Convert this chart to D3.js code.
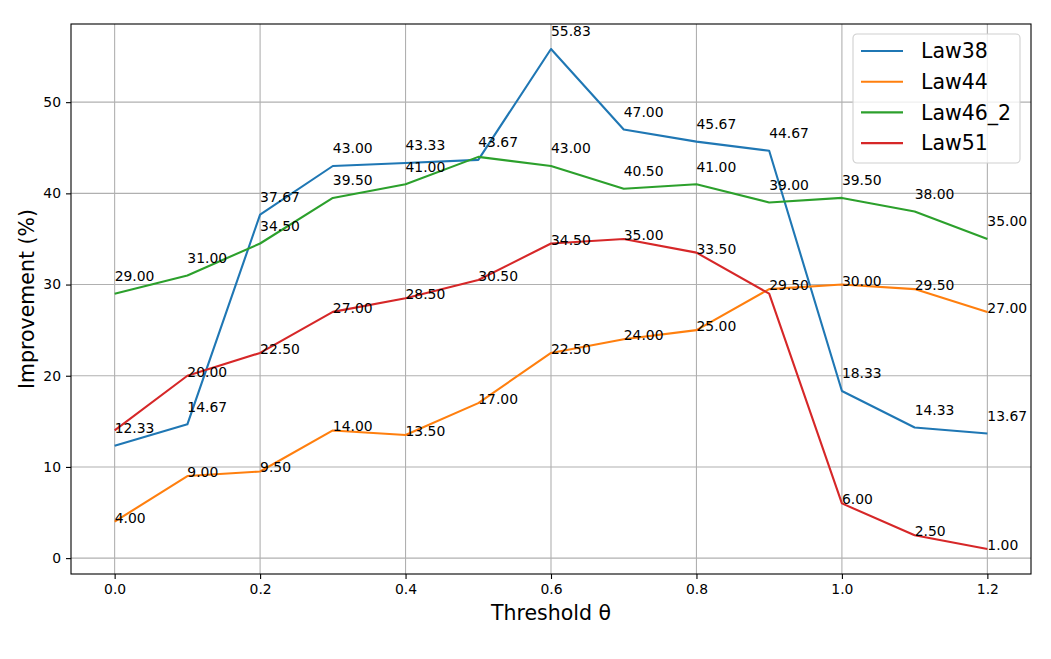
<!DOCTYPE html>
<html>
<head>
<meta charset="utf-8">
<script src="https://cdn.jsdelivr.net/npm/d3@7"></script>
<style>
  body { margin: 0; background: #fff; }
  text { font-family: "DejaVu Sans", sans-serif; }
</style>
</head>
<body>
<div id="chart"></div>
<script>
// data
var thresholds = [0.0, 0.1, 0.2, 0.3, 0.4, 0.5, 0.6, 0.7, 0.8, 0.9, 1.0, 1.1, 1.2];
var seriesNames = ["Law38", "Law44", "Law46_2", "Law51"];
var law38 = [12.33, 14.67, 37.67, 43.00, 43.33, 43.67, 55.83, 47.00, 45.67, 44.67, 18.33, 14.33, 13.67];
var law44 = [4.00, 9.00, 9.50, 14.00, 13.50, 17.00, 22.50, 24.00, 25.00, 29.50, 30.00, 29.50, 27.00];
var law46_2 = [29.00, 31.00, 34.50, 39.50, 41.00, 44.00, 43.00, 40.50, 41.00, 39.00, 39.50, 38.00, 35.00];
var law51 = [14.00, 20.00, 22.50, 27.00, 28.50, 30.50, 34.50, 35.00, 33.50, 29.00, 6.00, 2.50, 1.00];
var xTicks = [0.0, 0.2, 0.4, 0.6, 0.8, 1.0, 1.2];
var yTicks = [0, 10, 20, 30, 40, 50];

var allSeries = [law38, law44, law46_2, law51];

// styling
var colors = ["#1f77b4", "#ff7f0e", "#2ca02c", "#d62728"];
var labelLift = [1.5, 0, 1.5, 0];  // value units the label sits above the point

var svgWidth = 1051;
var svgHeight = 659;
var margin = { top: 24, right: 20, bottom: 85, left: 71 };
var width = svgWidth - margin.left - margin.right;   // 960
var height = svgHeight - margin.top - margin.bottom; // 550

var svg = d3.select("#chart")
    .append("svg")
    .attr("width", svgWidth)
    .attr("height", svgHeight);

var chartGroup = svg.append("g")
    .attr("transform", `translate(${margin.left}, ${margin.top})`);

// matplotlib-style 5% margins
var xMin = d3.min(thresholds), xMax = d3.max(thresholds);
var xPad = (xMax - xMin) * 0.05;
var yMin = d3.min(allSeries, s => d3.min(s)), yMax = d3.max(allSeries, s => d3.max(s));
var yPad = (yMax - yMin) * 0.05;

var xScale = d3.scaleLinear()
    .domain([xMin - xPad, xMax + xPad])
    .range([0, width]);

var yScale = d3.scaleLinear()
    .domain([yMin - yPad, yMax + yPad])
    .range([height, 0]);

// grid
chartGroup.append("g")
    .selectAll("line.vgrid")
    .data(xTicks)
    .enter()
    .append("line")
    .attr("x1", d => xScale(d)).attr("x2", d => xScale(d))
    .attr("y1", 0).attr("y2", height)
    .attr("stroke", "#b0b0b0")
    .attr("stroke-width", 1.1);

chartGroup.append("g")
    .selectAll("line.hgrid")
    .data(yTicks)
    .enter()
    .append("line")
    .attr("x1", 0).attr("x2", width)
    .attr("y1", d => yScale(d)).attr("y2", d => yScale(d))
    .attr("stroke", "#b0b0b0")
    .attr("stroke-width", 1.1);

// axes
var bottomAxis = d3.axisBottom(xScale)
    .tickValues(xTicks)
    .tickFormat(d3.format(".1f"))
    .tickSize(5)
    .tickPadding(5);

var leftAxis = d3.axisLeft(yScale)
    .tickValues(yTicks)
    .tickSize(5)
    .tickPadding(5);

var xAxisG = chartGroup.append("g")
    .attr("transform", `translate(0, ${height})`)
    .call(bottomAxis);

var yAxisG = chartGroup.append("g")
    .call(leftAxis);

[xAxisG, yAxisG].forEach(function (g) {
    g.select(".domain").remove();
    g.selectAll(".tick line").attr("stroke", "#000").attr("stroke-width", 1.1);
    g.selectAll(".tick text")
        .attr("fill", "#000")
        .style("font-family", "DejaVu Sans")
        .style("font-size", "13.9px");
});

// lines
var line = d3.line()
    .x((d, i) => xScale(thresholds[i]))
    .y(d => yScale(d));

chartGroup.selectAll("path.series")
    .data(allSeries)
    .enter()
    .append("path")
    .attr("class", "series")
    .attr("d", d => line(d))
    .attr("fill", "none")
    .attr("stroke", (d, i) => colors[i])
    .attr("stroke-width", 2.1)
    .attr("stroke-linejoin", "round");

// value labels, skipped when they would sit on top of an earlier one
var labelGroup = chartGroup.append("g");
var placed = [];
allSeries.forEach(function (values, s) {
    values.forEach(function (v, i) {
        var t = labelGroup.append("text")
            .attr("x", xScale(thresholds[i]))
            .attr("y", yScale(v + labelLift[s]) + 1)
            .attr("fill", "#000")
            .style("font-size", "13.9px")
            .text(v.toFixed(2));
        var b = t.node().getBBox();
        var clash = placed.some(function (p) {
            var ox = Math.min(b.x + b.width, p.x + p.width) - Math.max(b.x, p.x);
            var oy = Math.min(b.y + b.height, p.y + p.height) - Math.max(b.y, p.y);
            return ox > 4 && oy > 6;
        });
        if (clash) {
            t.remove();
        } else {
            placed.push(b);
        }
    });
});

// frame
chartGroup.append("rect")
    .attr("x", 0).attr("y", 0)
    .attr("width", width).attr("height", height)
    .attr("fill", "none")
    .attr("stroke", "#000")
    .attr("stroke-width", 1.1);

// axis titles
svg.append("text")
    .attr("x", margin.left + width / 2)
    .attr("y", 620)
    .attr("text-anchor", "middle")
    .style("font-size", "20.5px")
    .text("Threshold θ");

svg.append("text")
    .attr("transform", `translate(34, ${margin.top + height / 2}) rotate(-90)`)
    .attr("text-anchor", "middle")
    .style("font-size", "20.5px")
    .text("Improvement (%)");

// legend
var legend = chartGroup.append("g")
    .attr("transform", `translate(${853 - margin.left}, ${34 - margin.top})`);

legend.append("rect")
    .attr("width", 167)
    .attr("height", 129)
    .attr("rx", 4)
    .attr("fill", "#fff")
    .attr("fill-opacity", 0.8)
    .attr("stroke", "#d0d0d0")
    .attr("stroke-width", 1.1);

var legendItems = legend.selectAll("g.item")
    .data(seriesNames)
    .enter()
    .append("g")
    .attr("transform", (d, i) => `translate(0, ${17 + i * 30.7})`);

legendItems.append("line")
    .attr("x1", 8).attr("x2", 50)
    .attr("stroke", (d, i) => colors[i])
    .attr("stroke-width", 2.1);

legendItems.append("text")
    .attr("x", 68)
    .attr("dy", "0.35em")
    .style("font-size", "20.5px")
    .text(d => d);
</script>
</body>
</html>
